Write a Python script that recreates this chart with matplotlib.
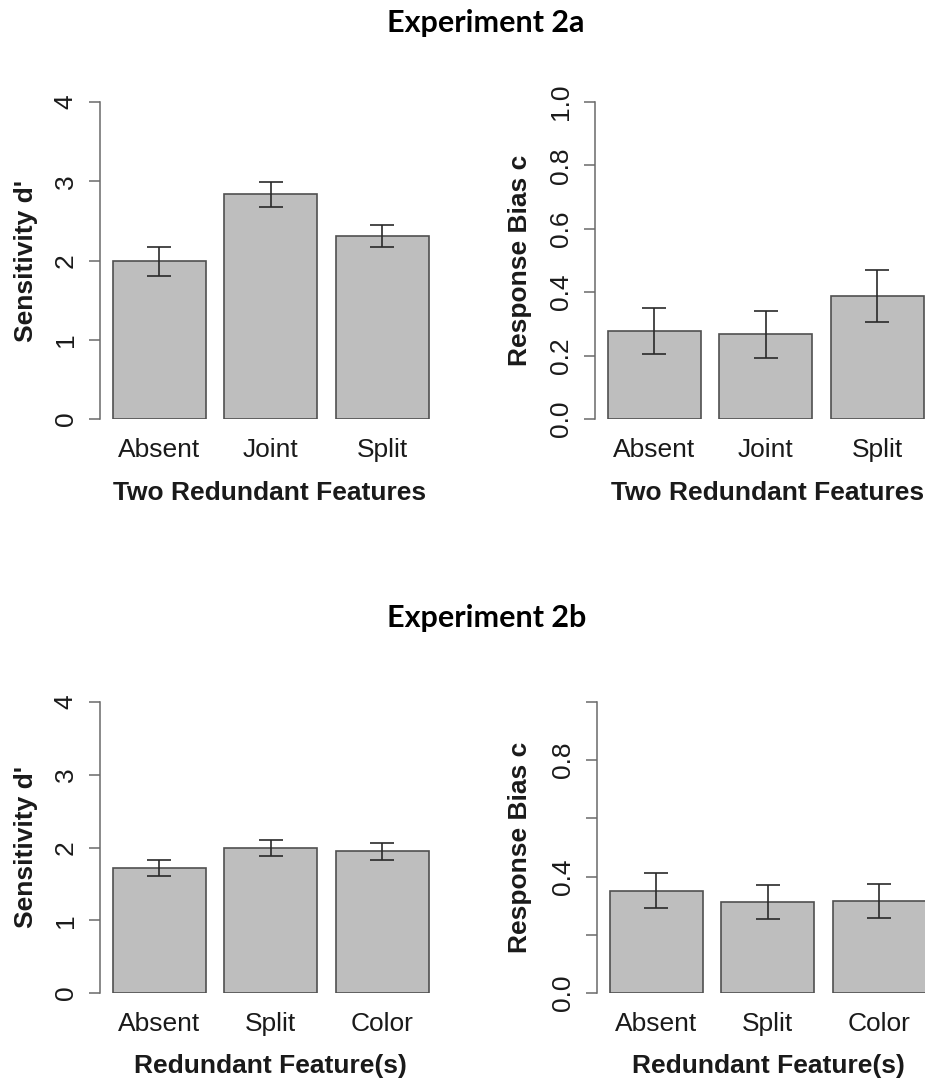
import numpy as np
import matplotlib; matplotlib.use('Agg')
import matplotlib.pyplot as plt

# Experiment 2a
CATS_A = ['Absent', 'Joint', 'Split']
DPRIME_A = [1.99, 2.835, 2.31]
DPRIME_A_ERR = [0.18, 0.155, 0.14]
BIAS_A = [0.278, 0.268, 0.388]
BIAS_A_ERR = [0.073, 0.074, 0.081]
XLAB_A = 'Two Redundant Features'

# Experiment 2b
CATS_B = ['Absent', 'Split', 'Color']
DPRIME_B = [1.72, 1.99, 1.95]
DPRIME_B_ERR = [0.11, 0.11, 0.115]
BIAS_B = [0.352, 0.312, 0.317]
BIAS_B_ERR = [0.061, 0.058, 0.058]
XLAB_B = 'Redundant Feature(s)'

W, H = 925, 1081
BARCOL = '#bebebe'
EDGE = '#505050'
AXCOL = '#6a6a6a'
TXT = '#1a1a1a'
SANS = 'Liberation Sans'
FS = 19

fig = plt.figure(figsize=(W/100, H/100), dpi=100)

def panel(x0, x1, ytop, ybot, cats, vals, errs, ylim, yticks, ylabels, ylab, xlab, ylab_x):
    ax = fig.add_axes([x0/W, 1-ybot/H, (x1-x0)/W, (ybot-ytop)/H])
    x = 0.7 + 1.2*np.arange(len(cats))
    ax.bar(x, vals, width=1.0, color=BARCOL, edgecolor=EDGE, linewidth=1.2, zorder=2)
    ax.errorbar(x, vals, yerr=errs, fmt='none', ecolor='#2a2a2a', elinewidth=1.2,
                capsize=8.3, capthick=1.2, zorder=3)
    ax.set_xlim(0.06, 0.06 + (x1-x0)/92.9)
    ax.set_ylim(*ylim)
    ax.spines[['top', 'right', 'bottom']].set_visible(False)
    ax.spines['left'].set_color(AXCOL)
    ax.spines['left'].set_linewidth(1.1)
    ax.spines['left'].set_bounds(*ylim)
    ax.set_xticks(x)
    ax.set_xticklabels(cats, fontsize=FS, family=SANS, color=TXT)
    ax.tick_params(axis='x', length=0, pad=14)
    ax.set_yticks(yticks)
    ax.set_yticklabels(ylabels, fontsize=FS, family=SANS, color=TXT, rotation=90, va='center')
    ax.tick_params(axis='y', length=8, width=1.1, color=AXCOL, pad=8)
    ax.set_xlabel(xlab, fontsize=FS, family=SANS, fontweight='bold', color=TXT, labelpad=13)
    ax.set_ylabel(ylab, fontsize=FS, family=SANS, fontweight='bold', color=TXT)
    ax.yaxis.set_label_coords(-(x0 - ylab_x)/(x1-x0), 0.5)
    ax.patch.set_visible(False)
    return ax

bias_ticks = [0, 0.2, 0.4, 0.6, 0.8, 1.0]

panel(100, 440, 102, 419, CATS_A, DPRIME_A, DPRIME_A_ERR, (0, 4), [0, 1, 2, 3, 4],
      ['0', '1', '2', '3', '4'], "Sensitivity d'", XLAB_A, 38)
panel(595, 940, 102, 419, CATS_A, BIAS_A, BIAS_A_ERR, (0, 1), bias_ticks,
      ['0.0', '0.2', '0.4', '0.6', '0.8', '1.0'], 'Response Bias c', XLAB_A, 532)
panel(100, 440, 702, 993, CATS_B, DPRIME_B, DPRIME_B_ERR, (0, 4), [0, 1, 2, 3, 4],
      ['0', '1', '2', '3', '4'], "Sensitivity d'", XLAB_B, 38)
panel(597, 940, 702, 993, CATS_B, BIAS_B, BIAS_B_ERR, (0, 1), bias_ticks,
      ['0.0', '', '0.4', '', '0.8', ''], 'Response Bias c', XLAB_B, 532)

fig.text(486/W, 1-23/H, 'Experiment 2a', ha='center', va='center', fontsize=22,
         family='Lato', fontweight='bold', color='black')
fig.text(487/W, 1-618/H, 'Experiment 2b', ha='center', va='center', fontsize=22,
         family='Lato', fontweight='bold', color='black')

fig.savefig('out.png', dpi=100, facecolor='white')
